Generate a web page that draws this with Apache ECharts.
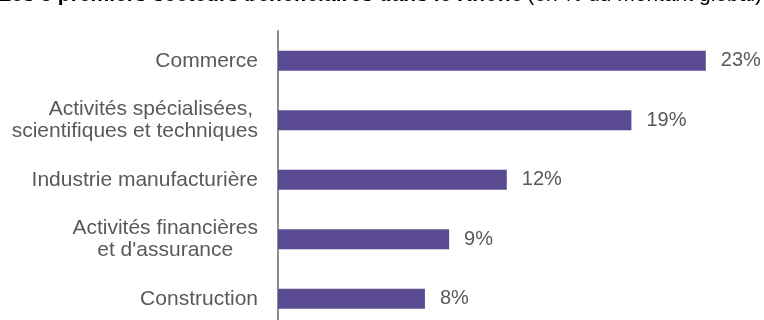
<!DOCTYPE html>
<html>
<head>
<meta charset="utf-8">
<script src="https://cdn.jsdelivr.net/npm/echarts@6/dist/echarts.min.js"></script>
<style>
html,body{margin:0;padding:0;background:#fff;}
#chart{width:764px;height:320px;}
</style>
</head>
<body>
<div id="chart"></div>
<script>
const titleBold = 'Les 5 premiers secteurs bénéficiaires dans le Rhône';
const titleNormal = '(en % du montant global)';
const categories = [
  'Commerce',
  'Activités spécialisées,\nscientifiques et techniques',
  'Industrie manufacturière',
  "Activités financières\net d'assurance",
  'Construction'
];
const values = [23, 19, 12.3, 9.2, 7.9];

const FONT = '"Liberation Sans", Arial, sans-serif';
const chart = echarts.init(document.getElementById('chart'), null, {renderer: 'canvas'});

function catFormatter(value, idx) {
  const lines = value.split('\n');
  if (lines.length === 1) return '{r|' + value + '}';
  if (value.indexOf('financières') >= 0) {
    return lines.map(l => '{c|' + l + '}').join('\n');
  }
  return '{p|' + lines[0] + '}\n{r|' + lines[1] + '}';
}

const baseRich = {fontSize: 21, fontFamily: FONT, color: '#595959', lineHeight: 22};

chart.setOption({
  animation: false,
  backgroundColor: '#ffffff',
  title: {
    text: '{b|' + titleBold + '} {n|' + titleNormal + '}',
    right: 2,
    top: -15,
    padding: 0,
    textStyle: {
      rich: {
        b: {fontSize: 21, fontWeight: 'bold', fontFamily: FONT, color: '#000000', lineHeight: 21},
        n: {fontSize: 21, fontWeight: 'normal', fontFamily: FONT, color: '#000000', lineHeight: 21}
      }
    }
  },
  grid: {left: 278, width: 465, top: 31, height: 297.5, containLabel: false, outerBoundsMode: 'none'},
  xAxis: {
    type: 'value', min: 0, max: 25, show: false
  },
  yAxis: {
    type: 'category',
    data: categories,
    inverse: true,
    axisLine: {show: true, lineStyle: {color: '#8c8c8c', width: 2}},
    axisTick: {show: false},
    splitLine: {show: false},
    axisLabel: {
      margin: 20,
      fontSize: 21,
      fontFamily: FONT,
      color: '#595959',
      lineHeight: 22,
      formatter: catFormatter,
      rich: {
        r: Object.assign({}, baseRich, {align: 'right'}),
        c: Object.assign({}, baseRich, {align: 'center'}),
        p: Object.assign({}, baseRich, {align: 'right', padding: [0, 5, 0, 0]})
      }
    }
  },
  series: [{
    type: 'bar',
    data: values,
    barWidth: 20,
    itemStyle: {color: '#5a4a91'},
    label: {
      show: true,
      position: 'right',
      distance: 15,
      fontSize: 20,
      fontFamily: FONT,
      color: '#595959',
      formatter: p => Math.round(p.value) + '%'
    }
  }]
});
</script>
</body>
</html>
